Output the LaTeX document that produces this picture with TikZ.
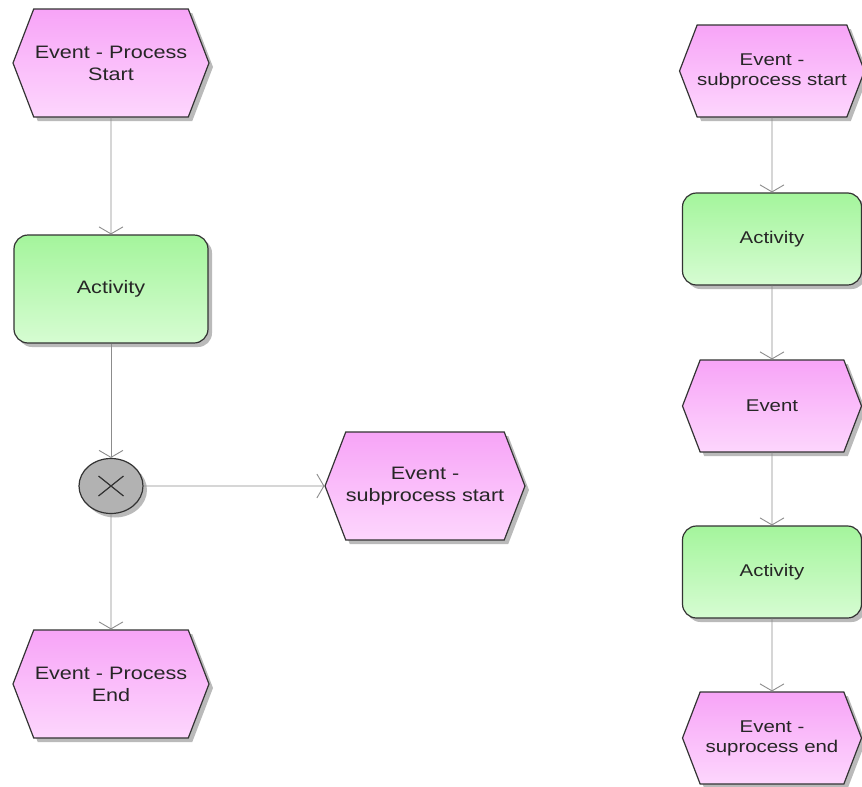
\documentclass[tikz,border=0pt]{standalone}
\usepackage{fontspec}
\setmainfont{Liberation Sans}[FakeStretch=1.2]
\usetikzlibrary{arrows.meta,shapes.symbols,shapes.geometric,shadows}

\definecolor{evtop}{HTML}{F7A4F7}
\definecolor{evbot}{HTML}{FDD6FD}
\definecolor{acttop}{HTML}{A4F59C}
\definecolor{actbot}{HTML}{D6FCD2}
\definecolor{gatefill}{HTML}{B2B2B2}
\definecolor{flowgray}{HTML}{8C8C8C}

\begin{document}
\begin{tikzpicture}[x=1pt, y=1pt, >={Straight Barb[length=7pt,width=24pt]},
    shade/.style={drop shadow={shadow xshift=4pt, shadow yshift=-4pt, fill=black!45, opacity=.6}},
    event/.style={shape=signal, signal to=west and east, signal pointer angle=138,
      draw=black!80, line width=1.2pt, top color=evtop, bottom color=evbot, shade,
      minimum width=196pt, minimum height=108pt, inner sep=0pt, align=center, text=black!85,
      font=\fontsize{18}{22}\selectfont},
    activity/.style={rectangle, rounded corners=14pt, draw=black!80, line width=1.2pt,
      top color=acttop, bottom color=actbot, shade, minimum width=194pt, minimum height=108pt,
      align=center, text=black!85, font=\fontsize{18}{22}\selectfont},
    small/.style={minimum width=179pt, minimum height=92pt, font=\fontsize{17}{20}\selectfont},
    xorgate/.style={ellipse, draw=black!80, line width=1.2pt, fill=gatefill, shade,
      minimum width=64pt, minimum height=55pt, inner sep=0pt},
    flow/.style={->, draw=flowgray, line width=0.9pt}]
  \useasboundingbox (0,0) rectangle (862,-787);

  % main process
  \node[event] (pstart) at (111,-63) {Event - Process\\Start};
  \node[activity] (act) at (111,-289) {Activity};
  \node[xorgate] (xor) at (111,-486) {};
  \draw[line width=1.2pt, black!80] (xor.center) +(-12.5,10) -- +(12.5,-10)
    (xor.center) +(-12.5,-10) -- +(12.5,10);
  \node[event] (pend) at (111,-684) {Event - Process\\End};
  \node[event] (sub) at (425,-486) {Event -\\subprocess start};

  \draw[flow] (pstart) -- (act);
  \draw[flow] (act) -- (xor);
  \draw[flow] (xor) -- (pend);
  \draw[flow] (xor) -- (sub);

  % subprocess
  \node[event, small] (sstart) at (772,-71) {Event -\\subprocess start};
  \node[activity, small] (sact1) at (772,-239) {Activity};
  \node[event, small] (sevent) at (772,-406) {Event};
  \node[activity, small] (sact2) at (772,-572) {Activity};
  \node[event, small] (send) at (772,-738) {Event -\\suprocess end};

  \draw[flow] (sstart) -- (sact1);
  \draw[flow] (sact1) -- (sevent);
  \draw[flow] (sevent) -- (sact2);
  \draw[flow] (sact2) -- (send);
\end{tikzpicture}
\end{document}
